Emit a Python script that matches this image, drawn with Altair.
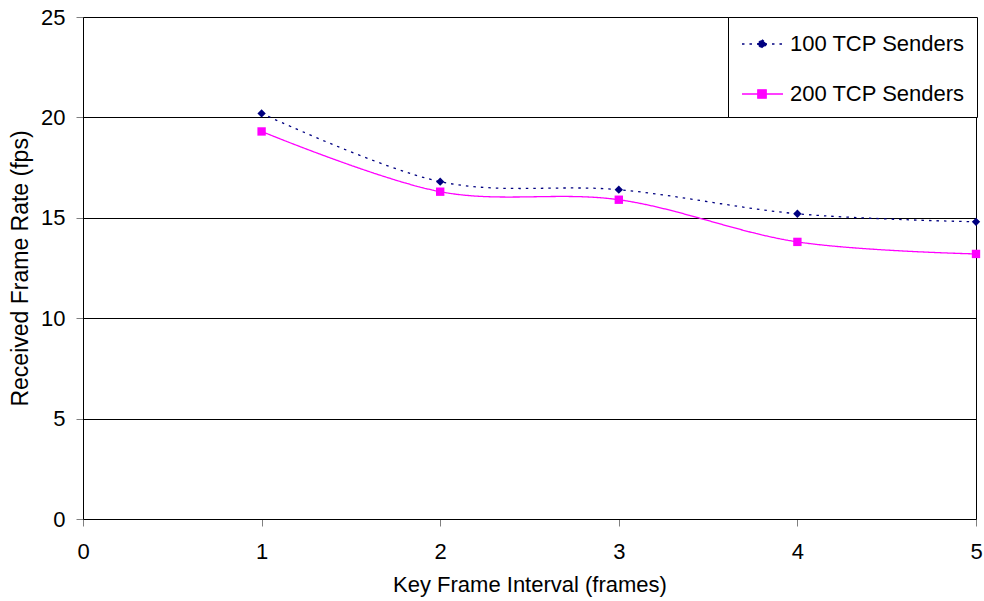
import altair as alt
import pandas as pd

# ---- data ----
intervals = [1, 2, 3, 4, 5]
fps_100 = [20.2, 16.8, 16.4, 15.2, 14.8]
fps_200 = [19.3, 16.3, 15.9, 13.8, 13.2]
series_names = ["100 TCP Senders", "200 TCP Senders"]
series_colors = ["#000080", "#FF00FF"]
x_ticks = [0, 1, 2, 3, 4, 5]
y_ticks = [0, 5, 10, 15, 20, 25]

rows = []
for name, vals in zip(series_names, [fps_100, fps_200]):
    for xv, v in zip(intervals, vals):
        rows.append({"interval": xv, "fps": v, "series": name, "legend": name})
df = pd.DataFrame(rows)

FONT = "Liberation Sans"
dash_range = [[2.5, 5], [1, 0]]

# legend symbols: line segment + marker
path100 = "M-0.93,0L2,0M0.5,-0.31L0.86,0L0.5,0.31L0.14,0Z"
path200 = "M-0.93,0L2,0M0.2,-0.3L0.8,-0.3L0.8,0.3L0.2,0.3Z"

x_enc = alt.X(
    "interval:Q",
    scale=alt.Scale(domain=[0, 5], nice=False, zero=False),
    axis=alt.Axis(
        values=x_ticks, format="d", title="Key Frame Interval (frames)", grid=False,
        labelFlush=False, tickSize=7, tickColor="#808080", domainColor="black",
        labelPadding=15, titlePadding=12, labelFont=FONT, titleFont=FONT,
        labelFontSize=22, titleFontSize=22, titleFontWeight="normal",
        labelColor="black", titleColor="black",
    ),
)
y_enc = alt.Y(
    "fps:Q",
    scale=alt.Scale(domain=[0, 25], nice=False),
    axis=alt.Axis(
        values=y_ticks, format="d", title="Received Frame Rate (fps)", grid=True,
        gridColor="black", gridWidth=1, labelFlush=False, tickSize=7,
        tickColor="#808080", domainColor="black", labelPadding=11, titlePadding=8,
        labelFont=FONT, titleFont=FONT, labelFontSize=22, titleFontSize=23,
        titleFontWeight="normal", labelColor="black", titleColor="black",
    ),
)

color_scale = alt.Scale(domain=series_names, range=series_colors)
dash_scale = alt.Scale(domain=series_names, range=dash_range)

lines = alt.Chart(df).mark_line(interpolate="cardinal", strokeWidth=1.3).encode(
    x=x_enc,
    y=y_enc,
    color=alt.Color("series:N", scale=color_scale, legend=None),
    strokeDash=alt.StrokeDash("series:N", scale=dash_scale, legend=None),
)

points = alt.Chart(df).mark_point(filled=True, opacity=1, size=70).encode(
    x=x_enc,
    y=y_enc,
    color=alt.Color("series:N", scale=color_scale, legend=None),
    shape=alt.Shape(
        "series:N",
        scale=alt.Scale(domain=series_names, range=["diamond", "square"]),
        legend=None,
    ),
)

leg = alt.Legend(
    title=None, orient="none", legendX=645, legendY=0,
    strokeColor="black", fillColor="white", padding=12,
    labelFont=FONT, labelFontSize=22, labelColor="black", labelLimit=400,
    symbolSize=784, symbolStrokeWidth=1.3, rowPadding=24,
    labelOffset=20, symbolOffset=0, cornerRadius=0,
)

legend_layer = (
    alt.Chart(df)
    .transform_filter("false")
    .mark_point(filled=True, opacity=1, strokeWidth=1.3)
    .encode(
        x=x_enc,
        y=y_enc,
        color=alt.Color("legend:N", scale=color_scale, legend=leg),
        stroke=alt.Stroke("legend:N", scale=color_scale, legend=leg),
        shape=alt.Shape(
            "legend:N",
            scale=alt.Scale(domain=series_names, range=[path100, path200]),
            legend=leg,
        ),
        strokeDash=alt.StrokeDash("legend:N", scale=dash_scale, legend=leg),
    )
)

chart = (
    alt.layer(lines, points, legend_layer)
    .resolve_scale(color="independent", shape="independent",
                   strokeDash="independent", stroke="independent")
    .properties(
        width=893, height=502,
        autosize=alt.AutoSizeParams(type="none"),
        padding={"left": 83, "top": 17, "right": 8, "bottom": 82},
        background="white",
    )
    .configure_view(stroke="black", strokeWidth=1)
)

chart.save("out.html", embed_options={"renderer": "svg", "actions": False})
